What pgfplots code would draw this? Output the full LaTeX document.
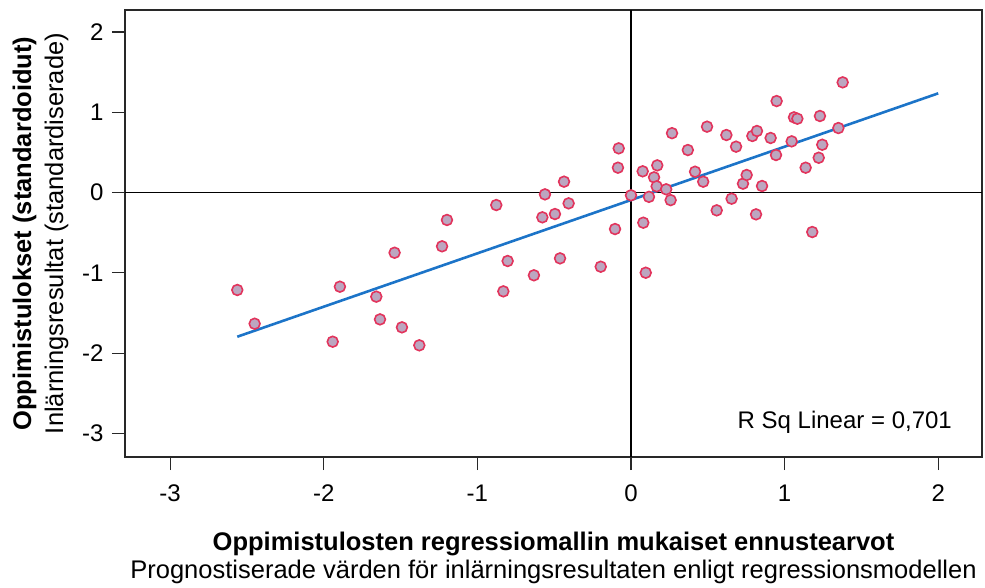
\documentclass[border=0pt]{standalone}
\usepackage{pgfplots}
\pgfplotsset{compat=1.18}
\usepackage{fontspec}
\setmainfont{Liberation Sans}
\definecolor{mkfill}{RGB}{188,166,192}
\definecolor{mkdraw}{RGB}{226,52,92}
\definecolor{fitblue}{RGB}{28,116,200}
\definecolor{axgray}{RGB}{40,40,40}
\begin{document}
\begin{tikzpicture}
\useasboundingbox (-125pt,-130pt) rectangle (860pt,457pt);
\begin{axis}[
  scale only axis,
  width=857pt, height=447pt,
  xmin=-3.294, xmax=2.285,
  ymin=-3.294, ymax=2.273,
  xtick={-3,-2,-1,0,1,2},
  ytick={-3,-2,-1,0,1,2},
  tick align=outside,
  major tick length=13pt,
  xtick pos=bottom, ytick pos=left,
  axis line style={axgray, line width=1.4pt},
  every tick/.style={axgray, line width=1.2pt},
  /pgf/number format/assume math mode=true,
  ticklabel style={font=\fontsize{24}{28}\selectfont},
  xticklabel style={yshift=-11pt},
  yticklabel style={xshift=-5pt},
  xlabel={\textbf{Oppimistulosten regressiomallin mukaiset ennustearvot}\\Prognostiserade värden för inlärningsresultaten enligt regressionsmodellen},
  xlabel style={at={(axis description cs:0.5,0)}, anchor=north, yshift=-71pt, align=center, font=\fontsize{25.5}{28}\selectfont},
  ylabel={\textbf{Oppimistulokset (standardoidut)}\\Inlärningsresultat (standardiserade)},
  ylabel style={at={(axis description cs:0,0.5)}, anchor=south, yshift=53pt, align=center, font=\fontsize{25.5}{32}\selectfont},
  clip=false,
]
% reference lines
\addplot[black, line width=1.2pt, forget plot] coordinates {(-3.294,0) (2.285,0)};
\addplot[black, line width=1.2pt, forget plot] coordinates {(0,-3.294) (0,2.273)};
% scatter points
\addplot[only marks, mark=*, mark size=5.4pt, mark options={fill=mkfill, draw=mkdraw, line width=1.6pt}] table {
x y
-2.563 -1.214
-2.450 -1.634
-1.895 -1.173
-1.942 -1.858
-1.539 -0.750
-1.658 -1.297
-1.634 -1.580
-1.491 -1.679
-1.378 -1.903
-1.198 -0.342
-1.230 -0.670
-0.877 -0.156
-0.803 -0.853
-0.831 -1.231
-0.632 -1.031
-0.577 -0.309
-0.560 -0.023
-0.436 0.135
-0.406 -0.135
-0.495 -0.268
-0.462 -0.820
-0.197 -0.924
-0.104 -0.455
-0.080 0.550
-0.085 0.309
0.000 -0.035
0.076 0.264
0.117 -0.054
0.080 -0.376
0.096 -0.999
0.150 0.189
0.171 0.338
0.167 0.077
0.229 0.040
0.258 -0.095
0.267 0.739
0.370 0.529
0.417 0.259
0.470 0.135
0.495 0.820
0.558 -0.222
0.621 0.716
0.655 -0.077
0.684 0.571
0.729 0.110
0.753 0.218
0.790 0.704
0.820 0.766
0.814 -0.272
0.853 0.081
0.909 0.679
0.944 0.467
0.948 1.139
1.046 0.637
1.061 0.936
1.083 0.919
1.137 0.309
1.180 -0.492
1.222 0.433
1.230 0.953
1.245 0.595
1.350 0.803
1.378 1.372
};
% fit line
\addplot[fitblue, line width=2.6pt] coordinates {(-2.563,-1.796) (2.0,1.235)};
\node[anchor=base east, inner sep=0pt, font=\fontsize{24}{28}\selectfont] at (axis cs:2.09,-2.933) {R Sq Linear = 0,701};
\end{axis}
\end{tikzpicture}
\end{document}
